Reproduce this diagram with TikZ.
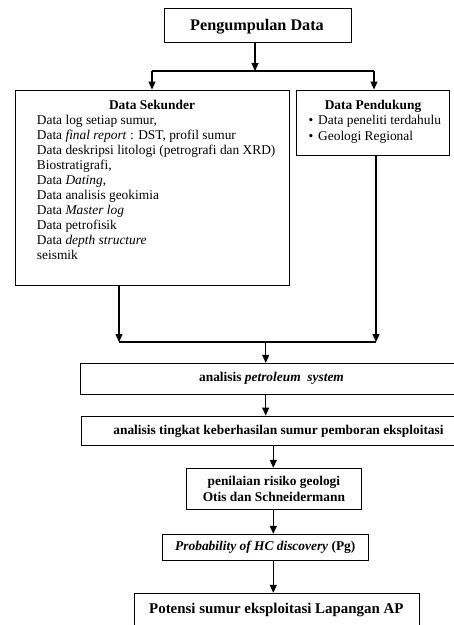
\documentclass[tikz,border=0pt]{standalone}
\usepackage{fontspec}
\setmainfont{Liberation Serif}
\usetikzlibrary{arrows.meta}
\begin{document}
\begin{tikzpicture}[x=1pt,y=-1pt,
  box/.style={draw, line width=1pt, inner sep=0pt},
  arr/.style={line width=1.2pt, -{Triangle[length=8pt,width=7pt]}},
  lin/.style={line width=1.2pt},
  txt/.style={inner sep=0pt, font=\fontsize{13.4}{15}\selectfont},
  btxt/.style={inner sep=0pt, font=\fontsize{13.4}{15.7}\selectfont\bfseries}
]
\useasboundingbox (0,0) rectangle (454,625);
\clip (0,0) rectangle (454,625);

% top box
\node[box, minimum width=187pt, minimum height=34pt] (pd) at (257.5,25) {};
\node[inner sep=0pt, anchor=base, font=\fontsize{16.2}{18}\selectfont\bfseries] (pdt) at (257,30.7) {Pengumpulan Data};

% Data Sekunder
\node[box, minimum width=274pt, minimum height=195pt] (sek) at (152,187.5) {};
\node[btxt, anchor=base] (sekt) at (152,109) {Data Sekunder};
\node[txt, anchor=base west] (sekl) at (36.7,124.3) {\parbox[t]{250pt}{\raggedright
Data log setiap sumur,\\
Data \textit{final report} : DST, profil sumur\\
Data deskripsi litologi (petrografi dan XRD)\\
Biostratigrafi,\\
Data \textit{Dating},\\
Data analisis geokimia\\
Data \textit{Master log}\\
Data petrofisik\\
Data \textit{depth structure}\\
seismik}};

% Data Pendukung
\node[box, minimum width=153.5pt, minimum height=65pt] (pen) at (372.75,122.5) {};
\node[btxt, anchor=base] (pent) at (373,109) {Data Pendukung};
\node[txt, anchor=base west] (penl) at (308.4,124) {\parbox[t]{140pt}{\raggedright
\makebox[9.6pt][l]{\textbullet}Data peneliti terdahulu\\[1pt]
\makebox[9.6pt][l]{\textbullet}Geologi Regional}};

% lower boxes
\node[box, btxt, minimum width=383pt, minimum height=30.7pt] (pet) at (271.5,378.7) {analisis \textit{petroleum\ \ system}};
\node[box, btxt, minimum width=395pt, minimum height=29.7pt] (tin) at (278.5,430.9) {analisis tingkat keberhasilan sumur pemboran eksploitasi};
\node[box, btxt, minimum width=175.7pt, minimum height=41pt, align=center] (nil) at (273.9,488.8) {penilaian risiko geologi\\Otis dan Schneidermann};
\node[box, btxt, minimum width=206pt, minimum height=26.4pt] (prob) at (265.3,547.5) {\textit{Probability of HC discovery} (Pg)};
\node[box, minimum width=285pt, minimum height=47pt] (pot) at (276.5,616.8) {};
\node[inner sep=0pt, anchor=base, font=\fontsize{14.9}{17}\selectfont\bfseries] (pott) at (276.3,613.3) {Potensi sumur eksploitasi Lapangan AP};

% connectors top
\coordinate (j1) at (255,71);
\coordinate (jl) at (152,71);
\coordinate (jr) at (374,71);
\draw[arr] (j1 |- pd.south) -- (j1);
\draw[lin] (jl) -- (jr);
\draw[arr] (jl) -- (jl |- sek.north);
\draw[arr] (jr) -- (jr |- pen.north);

% connectors middle
\coordinate (m1) at (119,342);
\coordinate (m2) at (376,342);
\coordinate (m0) at (265.7,342);
\draw[arr] (m1 |- sek.south) -- (m1);
\draw[arr] (m2 |- pen.south) -- (m2);
\draw[lin] (m1) -- (m2);
\draw[arr] (m0) -- (m0 |- pet.north);
\draw[arr] (m0 |- pet.south) -- (m0 |- tin.north);

% connectors bottom
\coordinate (c3) at (273.3,450);
\draw[arr] (c3 |- tin.south) -- (c3 |- nil.north);
\draw[arr] (c3 |- nil.south) -- (c3 |- prob.north);
\draw[arr] (c3 |- prob.south) -- (c3 |- pot.north);
\end{tikzpicture}
\end{document}
